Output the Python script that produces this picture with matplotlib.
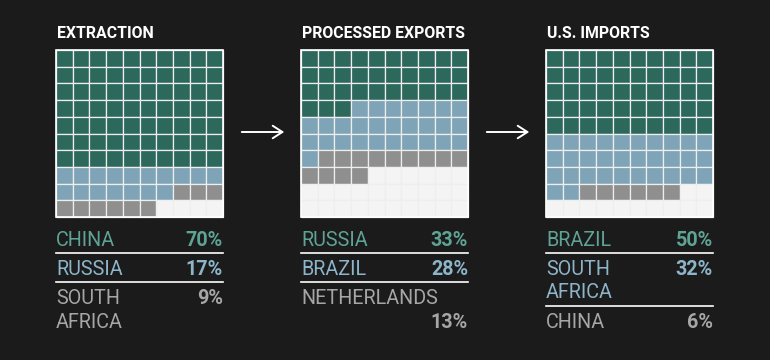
import matplotlib.pyplot as plt
from matplotlib.patches import Rectangle

plt.rcParams['font.family'] = ['Roboto', 'DejaVu Sans']

# data
titles = ['EXTRACTION', 'PROCESSED EXPORTS', 'U.S. IMPORTS']
labels = [['CHINA', 'RUSSIA', 'SOUTH\nAFRICA'],
          ['RUSSIA', 'BRAZIL', 'NETHERLANDS\n'],
          ['BRAZIL', 'SOUTH\nAFRICA', 'CHINA']]
shares = [[70, 17, 9],
          [33, 28, 13],
          [50, 32, 6]]
# which line of the label the percentage sits on
pct_line = [[0, 0, 0],
            [0, 0, 1],
            [0, 0, 0]]

# style
bg = '#1b1b1b'
cell_colors = ['#2d685c', '#7fa4b7', '#8f8f8f']
empty_color = '#f4f4f4'
text_colors = ['#5fa394', '#8db5c9', '#a6a6a6']

W, H = 770, 360
fig = plt.figure(figsize=(W / 100, H / 100), dpi=100, facecolor=bg)
ax = fig.add_axes([0, 0, 1, 1])
ax.set_xlim(0, W)
ax.set_ylim(H, 0)
ax.axis('off')
ax.set_facecolor(bg)

lefts = [56, 301, 546]
top = 50
size = 167
cell = size / 10

for p in range(3):
    x0 = lefts[p]
    ax.text(x0 + 1, 38, titles[p], color='white', fontsize=11.4,
            fontweight='bold', ha='left', va='baseline')

    # waffle: fill row by row from the top left
    fills = []
    for k, n in enumerate(shares[p]):
        fills += [cell_colors[k]] * n
    fills += [empty_color] * (100 - len(fills))
    for i, c in enumerate(fills):
        r, col = divmod(i, 10)
        ax.add_patch(Rectangle((x0 + col * cell, top + r * cell), cell, cell,
                               facecolor=c, edgecolor='#eeeeee', lw=0.9))
    ax.add_patch(Rectangle((x0, top), size, size, fill=False,
                           edgecolor='white', lw=1.2))

    # legend rows
    y = 246
    n_items = len(labels[p])
    for k in range(n_items):
        lines = labels[p][k].split('\n')
        for j, line in enumerate(lines):
            ax.text(x0, y + j * 23.5, line, color=text_colors[k],
                    fontsize=14.2, ha='left', va='baseline')
        ax.text(x0 + size, y + pct_line[p][k] * 23.5, f'{shares[p][k]}%',
                color=text_colors[k], fontsize=14.2, fontweight='bold',
                ha='right', va='baseline')
        last = y + (len(lines) - 1) * 23.5
        if k < n_items - 1:
            ax.plot([x0, x0 + size], [last + 7, last + 7], color='white', lw=1.2)
        y = last + 29

# arrows between panels
for p in range(2):
    xa = lefts[p] + size + 16
    ax.annotate('', xy=(xa + 48, 132), xytext=(xa, 132),
                arrowprops=dict(arrowstyle='->,head_length=0.7,head_width=0.45',
                                color='white', lw=1.4))

fig.savefig('out.png', dpi=100, facecolor=bg)
